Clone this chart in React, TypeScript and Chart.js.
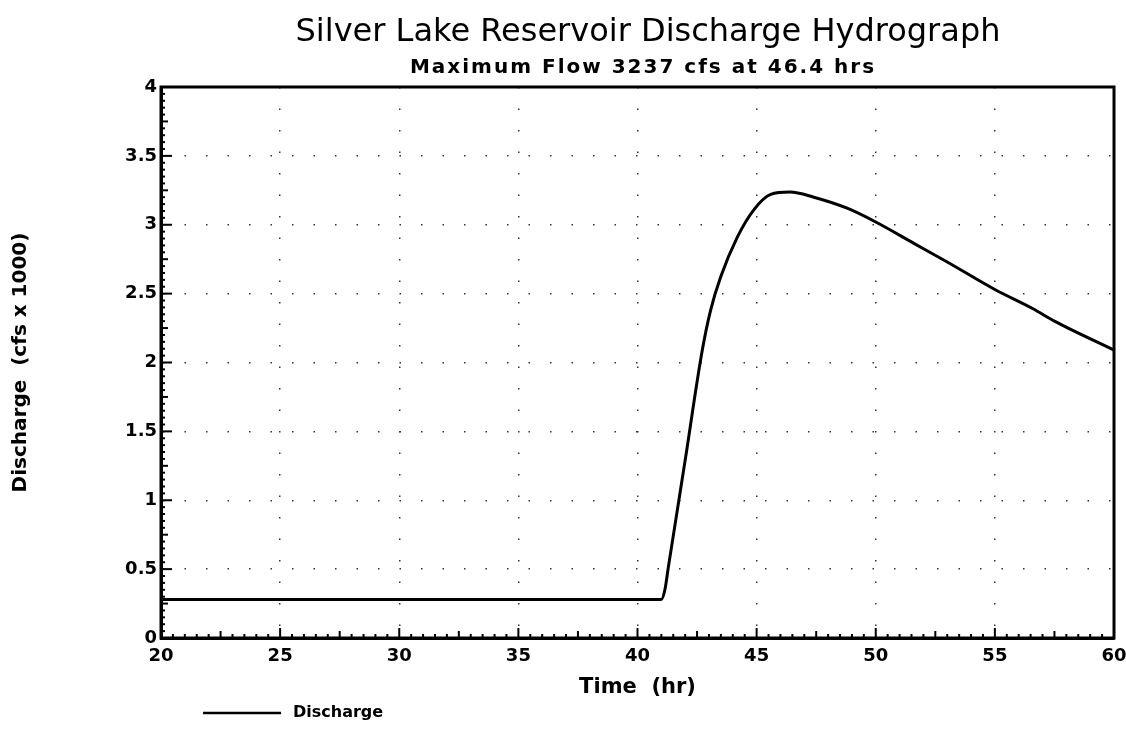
import React, { useEffect, useRef } from "react";
import { Chart, registerables } from "chart.js";
Chart.register(...registerables);

const titleText = "Silver Lake Reservoir Discharge Hydrograph";
const subtitleText = "Maximum Flow 3237 cfs at 46.4 hrs";
const xAxisTitle = "Time  (hr)";
const yAxisTitle = "Discharge  (cfs x 1000)";
const legendLabel = "Discharge";

const timeHr = [20, 41, 41.15, 41.3, 42.0, 42.72, 43.07, 43.49, 44.19, 44.89, 45.59, 46.4, 47.4, 48.8, 50, 51.6, 53, 55, 56.6, 57.5, 60];
const dischargeK = [0.28, 0.28, 0.35, 0.52, 1.29, 2.09, 2.38, 2.62, 2.91, 3.11, 3.22, 3.237, 3.2, 3.12, 3.02, 2.865, 2.73, 2.53, 2.39, 2.3, 2.09];

const FONT = "'DejaVu Sans', sans-serif";

const decorPlugin = {
  id: "decor",
  afterDraw(chart: any) {
    const ctx = chart.ctx;
    const ca = chart.chartArea;
    const xs = chart.scales.x;
    const ys = chart.scales.y;
    ctx.save();
    ctx.strokeStyle = "#000";
    ctx.fillStyle = "#000";
    ctx.lineWidth = 2;
    for (let i = 0; i <= 80; i++) {
      const v = 20 + i * 0.5;
      const len = i % 10 === 0 ? 10 : i % 5 === 0 ? 7 : 4;
      const x = xs.getPixelForValue(v);
      ctx.beginPath();
      ctx.moveTo(x, ca.bottom);
      ctx.lineTo(x, ca.bottom - len);
      ctx.stroke();
    }
    for (let i = 0; i <= 80; i++) {
      const v = i * 0.05;
      const len = i % 10 === 0 ? 11 : i % 5 === 0 ? 7 : 4;
      const y = ys.getPixelForValue(v);
      ctx.beginPath();
      ctx.moveTo(ca.left, y);
      ctx.lineTo(ca.left + len, y);
      ctx.stroke();
    }
    ctx.lineWidth = 3;
    ctx.strokeRect(ca.left, ca.top, ca.right - ca.left, ca.bottom - ca.top);

    ctx.textAlign = "center";
    ctx.textBaseline = "middle";
    ctx.font = `normal 32px ${FONT}`;
    ctx.fillText(titleText, 648, 33);
    ctx.font = `bold 20px ${FONT}`;
    (ctx as any).letterSpacing = "2px";
    ctx.fillText(subtitleText, 643, 68);
    (ctx as any).letterSpacing = "0px";
    ctx.font = `bold 21px ${FONT}`;
    ctx.fillText(xAxisTitle, (ca.left + ca.right) / 2, 688);
    ctx.save();
    ctx.translate(21, (ca.top + ca.bottom) / 2);
    ctx.rotate(-Math.PI / 2);
    ctx.font = `bold 20px ${FONT}`;
    ctx.fillText(yAxisTitle, 0, 0);
    ctx.restore();

    ctx.lineWidth = 2.5;
    ctx.beginPath();
    ctx.moveTo(203, 713);
    ctx.lineTo(281, 713);
    ctx.stroke();
    ctx.textAlign = "left";
    ctx.font = `bold 16px ${FONT}`;
    ctx.fillText(legendLabel, 293, 713);
    ctx.restore();
  },
};

export default function App() {
  const ref = useRef<HTMLCanvasElement | null>(null);
  useEffect(() => {
    document.body.style.margin = "0";
    const canvas = ref.current!;
    const data = timeHr.map((t, i) => ({ x: t, y: dischargeK[i] }));
    const dotted = (edge: number[]) => (c: any) =>
      edge.includes(c.tick?.value) ? "rgba(0,0,0,0)" : "#333";
    const chart = new Chart(canvas, {
      type: "line",
      data: {
        datasets: [
          {
            label: legendLabel,
            data,
            borderColor: "#000",
            borderWidth: 3,
            pointRadius: 0,
            cubicInterpolationMode: "monotone",
            fill: false,
          },
        ],
      },
      options: {
        animation: false,
        responsive: false,
        maintainAspectRatio: false,
        layout: { padding: { left: 0, top: 87, right: 12, bottom: 0 } },
        plugins: { legend: { display: false }, tooltip: { enabled: false }, title: { display: false } },
        scales: {
          x: {
            type: "linear",
            min: 20,
            max: 60,
            afterFit: (s: any) => {
              s.height = 100;
              s.paddingLeft = 0;
              s.paddingRight = 0;
            },
            ticks: {
              stepSize: 5,
              color: "#000",
              padding: 8,
              maxRotation: 0,
              font: { family: FONT, size: 18, weight: "bold" },
            },
            grid: {
              drawTicks: false,
              color: dotted([20, 60]),
              lineWidth: 1.5,
            },
            border: { display: true, color: "#000", width: 3, dash: [1.5, 20] },
          },
          y: {
            min: 0,
            max: 4,
            afterFit: (s: any) => {
              s.width = 161;
              s.paddingTop = 0;
              s.paddingBottom = 0;
            },
            ticks: {
              stepSize: 0.5,
              color: "#000",
              padding: 4,
              callback: (v: any) => `${Math.round(Number(v) * 10) / 10}`,
              font: { family: FONT, size: 18, weight: "bold" },
            },
            grid: {
              drawTicks: false,
              color: dotted([0, 4]),
              lineWidth: 1.5,
            },
            border: { display: true, color: "#000", width: 3, dash: [1.5, 20] },
          },
        },
      } as any,
      plugins: [decorPlugin],
    });
    return () => chart.destroy();
  }, []);
  return (
    <div style={{ position: "absolute", left: 0, top: 0, width: 1126, height: 738 }}>
      <canvas ref={ref} width={1126} height={738} style={{ width: 1126, height: 738 }} />
    </div>
  );
}
